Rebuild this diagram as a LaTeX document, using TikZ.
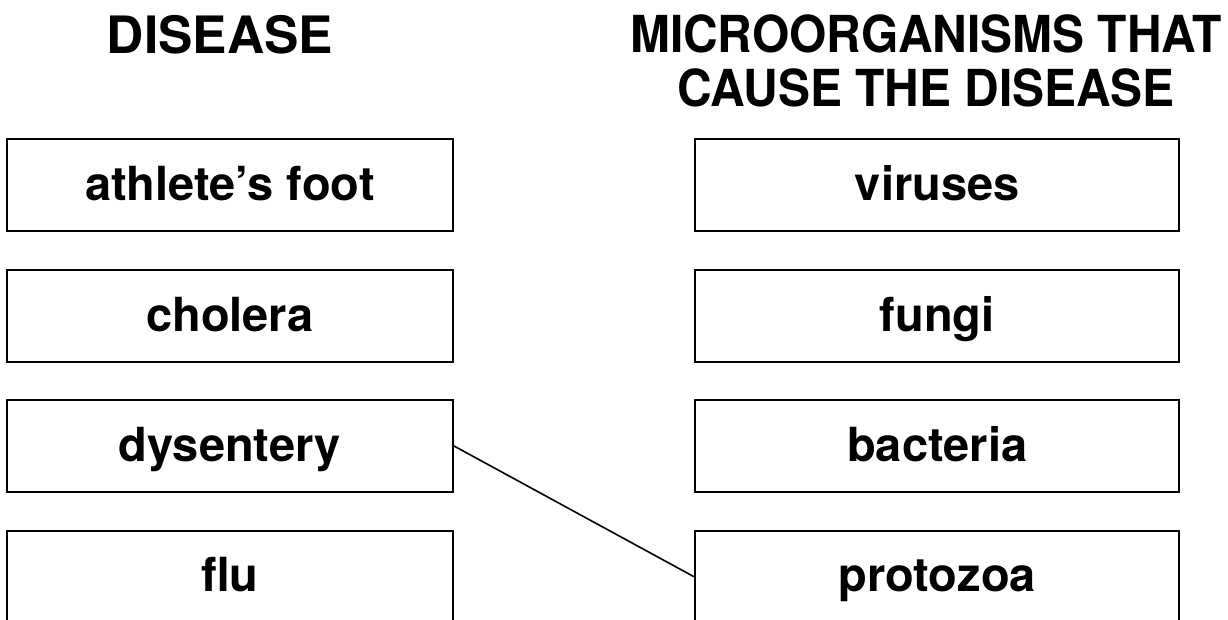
\documentclass[tikz,border=0pt]{standalone}
\usepackage{fontspec}
\setmainfont{TeX Gyre Heros}
\newfontfamily\condfont[FakeStretch=0.94]{TeX Gyre Heros}
\begin{document}
\begin{tikzpicture}[x=1pt,y=-1pt,
  itembox/.style={draw=black, line width=2pt, inner sep=0pt, minimum height=91.7pt,
    text height=40pt, text depth=10pt,
    font=\bfseries\fontsize{47}{50}\selectfont},
  leftbox/.style={itembox, minimum width=446.3pt},
  rightbox/.style={itembox, minimum width=484.5pt},
  heading/.style={inner sep=0pt, align=center, anchor=north},
  link/.style={draw=black, line width=1.6pt}]
\clip (0,0) rectangle (1228,619);
\useasboundingbox (0,0) rectangle (1228,619);
\fill[white] (0,0) rectangle (1228,619);

\node[heading, font=\bfseries\fontsize{51.5}{53}\selectfont] (hleft) at (220,15) {DISEASE};
\node[heading, font=\condfont\bfseries\fontsize{51}{53.4}\selectfont] (hright) at (926,15)
  {MICROORGANISMS THAT\\CAUSE THE DISEASE};

\node[leftbox] (athlete) at (229.9,185.3) {athlete’s foot};
\node[leftbox] (cholera) at (229.9,316) {cholera};
\node[leftbox] (dysentery) at (229.9,446) {dysentery};
\node[leftbox] (flu) at (229.9,576.7) {flu};

\node[rightbox] (viruses) at (937.2,185.3) {viruses};
\node[rightbox] (fungi) at (937.2,316) {fungi};
\node[rightbox] (bacteria) at (937.2,446) {bacteria};
\node[rightbox] (protozoa) at (937.2,576.7) {protozoa};

\draw[link] (dysentery.east) -- (protozoa.west);
\end{tikzpicture}
\end{document}
